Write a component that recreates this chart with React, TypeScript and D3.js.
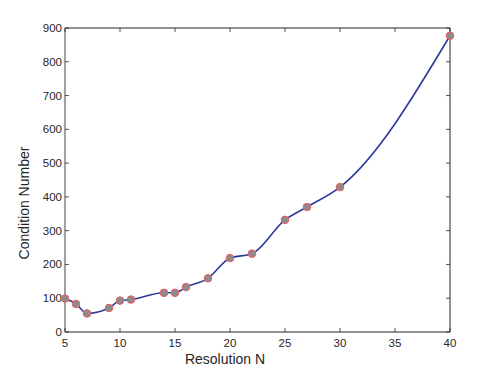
import React, { useEffect, useRef } from "react";
import * as d3 from "d3";

const resolution = [5, 6, 7, 9, 10, 11, 14, 15, 16, 18, 20, 22, 25, 27, 30, 40];
const condition = [99, 83, 55, 71, 93, 96, 116, 116, 133, 159, 219, 232, 332, 370, 429, 877];
const xTicks = [5, 10, 15, 20, 25, 30, 35, 40];
const yTicks = [0, 100, 200, 300, 400, 500, 600, 700, 800, 900];

export default function App() {
  const ref = useRef<SVGSVGElement>(null);

  useEffect(() => {
    const svg = d3.select(ref.current);
    svg.selectAll("*").remove();

    const left = 65, right = 450, top = 28, bottom = 332;
    const x = d3.scaleLinear().domain([5, 40]).range([left, right]);
    const y = d3.scaleLinear().domain([0, 900]).range([bottom, top]);
    const font = "Arial, 'Liberation Sans', Helvetica, sans-serif";
    const dark = "#262626";

    svg.append("rect").attr("width", 498).attr("height", 374).attr("fill", "#fff");

    // box
    svg.append("line").attr("x1", left).attr("x2", right).attr("y1", top).attr("y2", top)
      .attr("stroke", dark).attr("stroke-width", 1);
    svg.append("line").attr("x1", left).attr("x2", right).attr("y1", bottom).attr("y2", bottom)
      .attr("stroke", dark).attr("stroke-width", 1.2);
    svg.append("line").attr("x1", right).attr("x2", right).attr("y1", top).attr("y2", bottom)
      .attr("stroke", dark).attr("stroke-width", 1);
    svg.append("line").attr("x1", left).attr("x2", left).attr("y1", top).attr("y2", bottom)
      .attr("stroke", "#8a8a8a").attr("stroke-width", 1.6);

    // x ticks
    xTicks.forEach(t => {
      svg.append("line").attr("x1", x(t)).attr("x2", x(t)).attr("y1", bottom).attr("y2", bottom - 4)
        .attr("stroke", dark).attr("stroke-width", 0.8);
      svg.append("line").attr("x1", x(t)).attr("x2", x(t)).attr("y1", top).attr("y2", top + 4)
        .attr("stroke", dark).attr("stroke-width", 0.8);
      svg.append("text").attr("x", x(t)).attr("y", 347).attr("text-anchor", "middle")
        .attr("font-family", font).attr("font-size", 11.5).attr("fill", dark).text(t);
    });

    // y ticks
    yTicks.forEach(t => {
      svg.append("line").attr("x1", left).attr("x2", left + 4).attr("y1", y(t)).attr("y2", y(t))
        .attr("stroke", dark).attr("stroke-width", 0.8);
      svg.append("line").attr("x1", right).attr("x2", right - 4).attr("y1", y(t)).attr("y2", y(t))
        .attr("stroke", dark).attr("stroke-width", 0.8);
      svg.append("text").attr("x", 62).attr("y", y(t) + 4).attr("text-anchor", "end")
        .attr("font-family", font).attr("font-size", 11.5).attr("fill", dark).text(t);
    });

    svg.append("text").attr("x", 225).attr("y", 364).attr("text-anchor", "middle")
      .attr("font-family", font).attr("font-size", 14).attr("fill", dark).text("Resolution N");
    svg.append("text").attr("transform", "translate(29,203) rotate(-90)").attr("text-anchor", "middle")
      .attr("font-family", font).attr("font-size", 14).attr("fill", dark).text("Condition Number");

    const pts = resolution.map((r, i) => [r, condition[i]] as [number, number]);
    const line = d3.line<[number, number]>()
      .x(d => x(d[0])).y(d => y(d[1]))
      .curve(d3.curveMonotoneX);
    svg.append("path").attr("d", line(pts)).attr("fill", "none")
      .attr("stroke", "#2b3a98").attr("stroke-width", 1.6);

    svg.selectAll(".pt").data(pts).enter().append("circle")
      .attr("cx", d => x(d[0])).attr("cy", d => y(d[1])).attr("r", 3.8)
      .attr("fill", "#8c8c8c").attr("stroke", "#f05a64").attr("stroke-width", 1);
  }, []);

  return (
    <svg ref={ref} width={498} height={374} style={{ position: "absolute", left: 0, top: 0 }} />
  );
}
